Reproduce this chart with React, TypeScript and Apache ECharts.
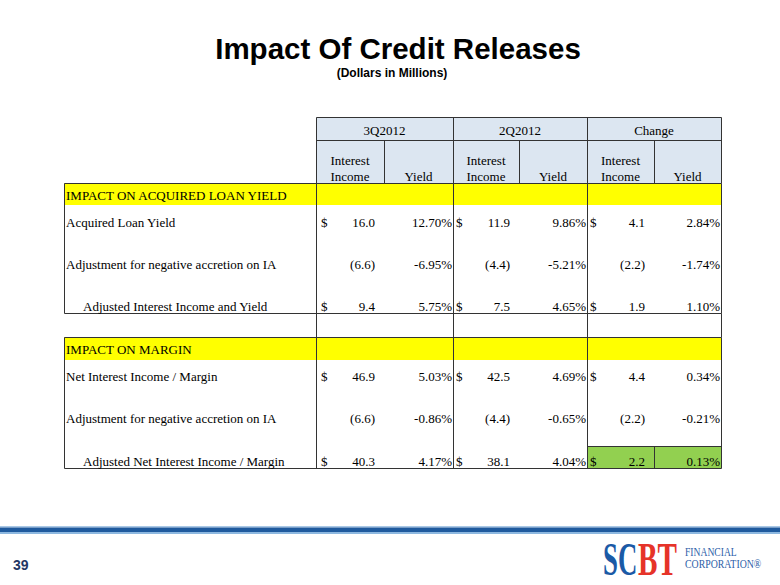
import React, { useEffect, useRef } from "react";
import * as echarts from "echarts";

// ---- data ----
const titleText = "Impact Of Credit Releases";
const subtitleText = "(Dollars in Millions)";
const groupLabels = ["3Q2012", "2Q2012", "Change"];
const incomeHeader = ["Interest", "Income"];
const yieldHeader = "Yield";
const sectionTitles = ["IMPACT ON ACQUIRED LOAN YIELD", "IMPACT ON MARGIN"];
const rowLabels = [
  ["Acquired Loan Yield", "Adjustment for negative accretion on IA", "Adjusted Interest Income and Yield"],
  ["Net Interest Income / Margin", "Adjustment for negative accretion on IA", "Adjusted Net Interest Income / Margin"],
];
const rowIndented = [false, false, true];
const showDollar = [true, false, true];
const q3Income = [[16.0, -6.6, 9.4], [46.9, -6.6, 40.3]];
const q3Yield = [[12.7, -6.95, 5.75], [5.03, -0.86, 4.17]];
const q2Income = [[11.9, -4.4, 7.5], [42.5, -4.4, 38.1]];
const q2Yield = [[9.86, -5.21, 4.65], [4.69, -0.65, 4.04]];
const chgIncome = [[4.1, -2.2, 1.9], [4.4, -2.2, 2.2]];
const chgYield = [[2.84, -1.74, 1.1], [0.34, -0.21, 0.13]];
const pageNumber = "39";

// ---- layout ----
const LEFT = 64;
const GX = [316, 453, 587, 721];
const SUB = [384, 519, 654];
const HEAD_TOP = 117;
const HEAD_MID = 140;
const HEAD_BOT = 183;
const SECTIONS = [
  { top: 183, ybot: 205, bottom: 313, textY: [222, 264, 306] },
  { top: 337, ybot: 360, bottom: 468, textY: [376, 418, 461] },
];
const GREEN = { x1: 587, x2: 721, y1: 446, y2: 468 };
const BORDER = "#333333";
const SERIF = '"Liberation Serif", "Times New Roman", serif';
const SANS = '"Liberation Sans", Arial, sans-serif';

function fmtIncome(v: number) {
  return v < 0 ? "(" + Math.abs(v).toFixed(1) + ")" : v.toFixed(1);
}
function fmtYield(v: number) {
  return v.toFixed(2) + "%";
}

function buildGraphics() {
  const els: any[] = [];
  const P = (v: number) => Math.round(v) + 0.5;
  const line = (x1: number, y1: number, x2: number, y2: number, color = BORDER) =>
    els.push({
      type: "line",
      z: 2,
      silent: true,
      shape: { x1: P(x1), y1: P(y1), x2: P(x2), y2: P(y2) },
      style: { stroke: color, lineWidth: 1 },
    });
  const rect = (x: number, y: number, w: number, h: number, fill: string, z = 1) =>
    els.push({ type: "rect", z, silent: true, shape: { x, y, width: w, height: h }, style: { fill } });
  const text = (
    x: number,
    y: number,
    t: string,
    o: { align?: string; size?: number; weight?: string; family?: string; fill?: string; scaleX?: number } = {}
  ) =>
    els.push({
      type: "text",
      z: 3,
      silent: true,
      x,
      y,
      scaleX: o.scaleX ?? 1,
      style: {
        text: t,
        fill: o.fill ?? "#000",
        fontSize: o.size ?? 13,
        fontWeight: o.weight ?? "normal",
        fontFamily: o.family ?? SERIF,
        align: o.align ?? "left",
        verticalAlign: "middle",
      },
    });

  // title
  text(398, 48, titleText, { align: "center", size: 29.5, weight: "bold", family: SANS });
  text(392, 73, subtitleText, { align: "center", size: 12, weight: "bold", family: SANS });

  // header
  rect(GX[0], HEAD_TOP, GX[3] - GX[0], HEAD_BOT - HEAD_TOP, "#dce6f1");
  line(GX[0], HEAD_TOP, GX[3], HEAD_TOP);
  line(GX[0], HEAD_MID, GX[3], HEAD_MID);
  GX.forEach((x) => line(x, HEAD_TOP, x, HEAD_BOT));
  SUB.forEach((x) => line(x, HEAD_MID, x, HEAD_BOT));
  groupLabels.forEach((g, i) => {
    text((GX[i] + GX[i + 1]) / 2, 130, g, { align: "center" });
    const cx1 = (GX[i] + SUB[i]) / 2;
    const cx2 = (SUB[i] + GX[i + 1]) / 2;
    text(cx1, 160, incomeHeader[0], { align: "center" });
    text(cx1, 176, incomeHeader[1], { align: "center" });
    text(cx2, 176, yieldHeader, { align: "center" });
  });

  // sections
  const incomes = [q3Income, q2Income, chgIncome];
  const yields = [q3Yield, q2Yield, chgYield];
  SECTIONS.forEach((s, si) => {
    rect(LEFT, s.top, GX[3] - LEFT, s.ybot - s.top, "#ffff00");
    line(LEFT, s.top, GX[3], s.top);
    line(LEFT, s.bottom, GX[3], s.bottom);
    line(LEFT, s.top, LEFT, s.bottom);
    GX.forEach((x) => line(x, s.top, x, s.bottom));
    text(LEFT + 2, (s.top + s.ybot) / 2 + 1, sectionTitles[si]);
    rowLabels[si].forEach((lab, ri) => {
      const y = s.textY[ri];
      text(LEFT + 2 + (rowIndented[ri] ? 17 : 0), y, lab);
      for (let g = 0; g < 3; g++) {
        const dollarX = g === 0 ? GX[0] + 5 : GX[g] + 3;
        if (showDollar[ri]) text(dollarX, y, "$");
        text(SUB[g] - 9, y, fmtIncome(incomes[g][si][ri]), { align: "right" });
        text(GX[g + 1] - 1, y, fmtYield(yields[g][si][ri]), { align: "right" });
      }
    });
  });
  // blank row between sections
  GX.forEach((x) => line(x, SECTIONS[0].bottom, x, SECTIONS[1].top));

  // highlighted change cells
  rect(GREEN.x1, GREEN.y1, GREEN.x2 - GREEN.x1, GREEN.y2 - GREEN.y1, "#92d050");
  line(GREEN.x1, GREEN.y1, GREEN.x2, GREEN.y1);
  line(SUB[2], GREEN.y1, SUB[2], GREEN.y2);

  // footer
  rect(0, 526, 780, 1.5, "#a9c8e6");
  rect(0, 527.5, 780, 4.5, "#1f5a9e");
  rect(0, 532, 780, 2, "#8db8e0");
  text(13, 565, pageNumber, { size: 14, weight: "bold", family: SANS, fill: "#1f3864" });

  // logo
  text(603, 559, "SC", { size: 47, weight: "bold", fill: "#1b5aa6", scaleX: 0.57 });
  text(638, 559, "BT", { size: 47, weight: "bold", fill: "#e63329", scaleX: 0.62 });
  text(685, 552, "FINANCIAL", { size: 12, fill: "#2c5ea8", scaleX: 0.8 });
  text(685, 564, "CORPORATION®", { size: 12, fill: "#2c5ea8", scaleX: 0.82 });

  return els;
}

export default function App() {
  const ref = useRef<HTMLDivElement>(null);
  useEffect(() => {
    if (!ref.current) return;
    const chart = echarts.init(ref.current, undefined, { renderer: "svg" });
    chart.setOption({
      animation: false,
      backgroundColor: "#ffffff",
      graphic: { elements: buildGraphics() },
    });
    return () => chart.dispose();
  }, []);
  return (
    <div
      ref={ref}
      style={{ position: "fixed", left: 0, top: 0, width: 780, height: 585, background: "#fff" }}
    />
  );
}
